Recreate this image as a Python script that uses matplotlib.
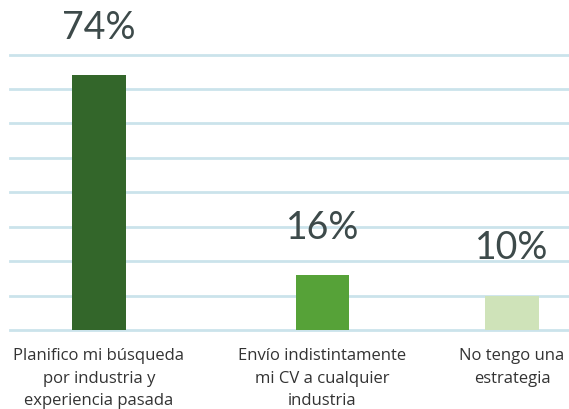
import matplotlib
matplotlib.use("Agg")
import matplotlib.pyplot as plt

categories = ["Planifico mi búsqueda\npor industria y\nexperiencia pasada",
              "Envío indistintamente\nmi CV a cualquier\nindustria",
              "No tengo una\nestrategia"]
values = [74, 16, 10]
labels = ["74%", "16%", "10%"]
colors = ["#33662a", "#56a238", "#cfe3b9"]
positions = [0, 1, 1.848]

fig = plt.figure(figsize=(5.69, 4.09), dpi=100)
ax = fig.add_axes([10/569, (409-330)/409, 559/569, (330-54.6)/409])

for y in range(0, 90, 10):
    ax.axhline(y, color="#cbe3eb", lw=2.0, zorder=0, clip_on=False)

ax.bar(positions, values, width=0.24, color=colors, zorder=2)
for x, v, t in zip(positions, values, labels):
    ax.annotate(t, (x, v), xytext=(0, 21), textcoords="offset points",
                ha="center", va="bottom", fontsize=27, color="#3d4a4a",
                family="Lato", annotation_clip=False)

ax.set_xlim(-0.398, 2.103)
ax.set_ylim(0, 80)
ax.set_xticks(positions)
ax.set_xticklabels(categories, fontsize=12, color="#333333", family="Open Sans",
                   linespacing=1.55)
ax.tick_params(axis="x", length=0, pad=13)
ax.set_yticks([])
for s in ax.spines.values():
    s.set_visible(False)

fig.savefig("out.png", dpi=100)
